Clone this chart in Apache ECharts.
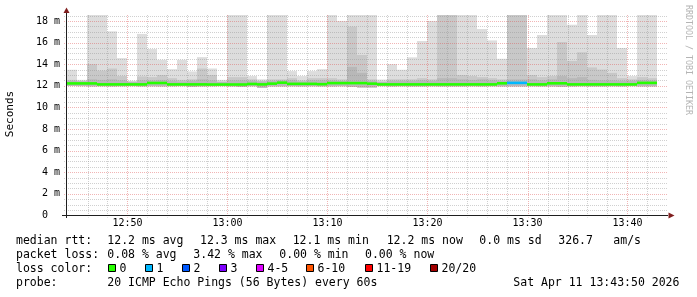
<!DOCTYPE html>
<html><head><meta charset="utf-8">
<script src="https://cdn.jsdelivr.net/npm/echarts@6/dist/echarts.min.js"></script>
<style>html,body{margin:0;padding:0;background:#fff}#c{width:697px;height:297px}</style>
</head><body><div id="c"></div>
<script>
// time in minutes after 12:00
const startMinute = 43.95;
const stepMinutes = 1;
const yMaxValue = 18.55;
const xMajorTicks = [50, 60, 70, 80, 90, 100];
const xTickLabels = ['12:50', '13:00', '13:10', '13:20', '13:30', '13:40'];
const yMajorTicks = [0, 2, 4, 6, 8, 10, 12, 14, 16, 18];
const yTickLabels = ['0  ', '2 m', '4 m', '6 m', '8 m', '10 m', '12 m', '14 m', '16 m', '18 m'];

// smoke (ms) per minute
const smokeMax = [13.48,12.55,19,19,17.04,14.56,12.46,16.8,15.4,14.4,13.54,14.4,13.33,14.65,13.6,12.55,19,19,12.9,12.6,
  19,19,13.36,12.9,13.36,13.54,19,18.0,19,19,19,12.58,14.0,13.48,14.63,16.14,18.0,19,19,19,
  19,17.25,16.2,14.5,19,19,15.5,16.7,19,19,17.65,19,16.7,19,19,15.5,12.9,19,19];
const smokeMid = [12.55,12.45,14.0,13.4,13.6,12.9,12.4,12.87,12.8,13.0,12.7,12.55,12.6,13.6,13.0,12.4,12.8,12.8,12.6,12.45,
  12.6,12.6,12.7,12.5,12.7,12.7,12.7,12.6,17.47,14.85,12.6,12.4,12.6,12.6,12.6,12.7,12.6,19,19,13.0,
  12.9,12.8,12.7,12.6,19,19,13.0,12.8,12.9,16.05,14.3,15.1,13.7,13.5,13.2,12.7,12.6,12.8,12.7];
const smokeInner = [12.45,12.4,12.6,12.55,12.6,12.5,12.35,12.5,12.5,12.55,12.45,12.4,12.45,12.6,12.5,12.35,12.5,12.5,12.45,12.4,
  12.45,12.5,12.5,12.4,12.5,12.5,12.5,12.45,13.75,13.2,12.45,12.35,12.45,12.45,12.45,12.5,12.45,12.7,12.7,12.6,
  12.55,12.6,12.5,12.45,12.6,12.6,12.6,12.5,12.6,12.9,12.7,12.8,12.55,12.5,12.5,12.45,12.45,12.55,12.5];
const smokeMin = [11.98,11.97,11.95,11.96,11.95,11.96,11.97,11.95,11.96,11.95,11.96,11.97,11.92,11.95,11.96,11.97,11.95,11.9,11.96,11.82,
  11.95,11.95,11.96,11.95,11.96,11.95,11.95,11.96,11.9,11.85,11.85,11.97,11.95,11.96,11.95,11.95,11.96,11.95,11.95,11.95,
  11.96,11.95,11.96,11.95,11.95,11.95,11.96,11.95,11.95,11.92,11.95,11.96,11.95,11.95,11.96,11.95,11.97,11.95,11.95];
const medianRtt = [12.22,12.22,12.22,12.13,12.13,12.13,12.13,12.13,12.26,12.26,12.13,12.13,12.13,12.13,12.12,12.12,12.12,12.12,12.17,12.13,
  12.2,12.29,12.18,12.18,12.18,12.15,12.25,12.25,12.25,12.25,12.2,12.13,12.13,12.13,12.13,12.13,12.13,12.13,12.13,12.13,
  12.13,12.13,12.13,12.23,12.27,12.27,12.13,12.13,12.23,12.23,12.13,12.13,12.13,12.13,12.13,12.13,12.13,12.27,12.27];
const lossCount = [0,0,0,0,0,0,0,0,0,0,0,0,0,0,0,0,0,0,0,0,
  0,0,0,0,0,0,0,0,0,0,0,0,0,0,0,0,0,0,0,0,
  0,0,0,0,1,1,0,0,0,0,0,0,0,0,0,0,0,0,0];

const lossLegend = ['0', '1', '2', '3', '4-5', '6-10', '11-19', '20/20'];
const lossLegendColors = ['#26ff00', '#00b8ff', '#0059ff', '#7e00ff', '#dd00ff', '#ff5500', '#ff0000', '#a10000'];
function lossColor(n) {
  if (n <= 0) return lossLegendColors[0];
  if (n === 1) return lossLegendColors[1];
  if (n === 2) return lossLegendColors[2];
  if (n === 3) return lossLegendColors[3];
  if (n <= 5) return lossLegendColors[4];
  if (n <= 10) return lossLegendColors[5];
  if (n <= 19) return lossLegendColors[6];
  return lossLegendColors[7];
}

const times = smokeMax.map((_, i) => startMinute + i * stepMinutes);
const smokeData = times.map((t, i) => [t, smokeMin[i], smokeMax[i], smokeMid[i], smokeInner[i]]);
const medianData = times.map((t, i) => [t, medianRtt[i], lossCount[i]]);

// grid line list: [orientation(0=vertical,1=horizontal), value, major]
const gridData = [];
for (let m = 46; m <= 102; m += 2) gridData.push([0, m, xMajorTicks.includes(m) ? 1 : 0]);
for (let v = 0.5; v <= 18.5; v += 0.5) gridData.push([1, v, yMajorTicks.includes(v) ? 1 : 0]);

const MONO = '"DejaVu Sans Mono", monospace';
const chart = echarts.init(document.getElementById('c'), null, {renderer: 'canvas'});

const legendRows = [
  {y: 241, items: [[16, 'median rtt:'], [107.3, '12.2 ms avg'], [200, '12.3 ms max'], [292.7, '12.1 ms min'], [386.7, '12.2 ms now'], [479.3, '0.0 ms sd'], [558.3, '326.7'], [613.3, 'am/s']]},
  {y: 255, items: [[16, 'packet loss:'], [107.3, '0.08 % avg'], [193.3, '3.42 % max'], [279.3, '0.00 % min'], [365, '0.00 % now']]},
  {y: 269, items: [[16, 'loss color:']]},
  {y: 283, items: [[16, 'probe:'], [107.3, '20 ICMP Echo Pings (56 Bytes) every 60s'], [513.3, 'Sat Apr 11 13:43:50 2026']]}
];
const boxX = [108.5, 145.5, 182.5, 219.5, 256.5, 306.5, 365.5, 430.5];

const graphics = [];
legendRows.forEach(r => r.items.forEach(([x, s]) => graphics.push({
  type: 'text', x: x, y: r.y, z: 50,
  style: {text: s, font: '11.5px ' + MONO, fill: '#000', verticalAlign: 'middle', align: 'left'}
})));
lossLegend.forEach((s, i) => {
  graphics.push({type: 'rect', z: 50, shape: {x: boxX[i], y: 264.5, width: 7, height: 7},
    style: {fill: lossLegendColors[i], stroke: '#000', lineWidth: 1}});
  graphics.push({type: 'text', x: boxX[i] + 11, y: 269, z: 50,
    style: {text: s, font: '11.5px ' + MONO, fill: '#000', verticalAlign: 'middle', align: 'left'}});
});
// axis title
graphics.push({type: 'text', x: 10, y: 114, rotation: Math.PI / 2, z: 50,
  style: {text: 'Seconds', font: '11px ' + MONO, fill: '#000', align: 'center', verticalAlign: 'middle'}});
// watermark
graphics.push({type: 'text', x: 688, y: 60, rotation: -Math.PI / 2, z: 50,
  style: {text: 'RRDTOOL / TOBI OETIKER', font: '8.3px ' + MONO, fill: '#b4b4b4', align: 'center', verticalAlign: 'middle'}});
// axis lines and arrows
graphics.push({type: 'line', z: 60, shape: {x1: 62, y1: 215.5, x2: 668, y2: 215.5}, style: {stroke: '#1f1f1f', lineWidth: 1}});
graphics.push({type: 'line', z: 60, shape: {x1: 66.5, y1: 218, x2: 66.5, y2: 12}, style: {stroke: '#1f1f1f', lineWidth: 1}});
graphics.push({type: 'polygon', z: 61, shape: {points: [[66.5, 7.5], [63.5, 13], [69.5, 13]]}, style: {fill: '#801f1f'}});
graphics.push({type: 'polygon', z: 61, shape: {points: [[674.5, 215.5], [668.5, 212.5], [668.5, 218.5]]}, style: {fill: '#801f1f'}});

chart.setOption({
  animation: false,
  backgroundColor: '#ffffff',
  grid: {left: 67, right: 29, top: 15, bottom: 81.5, containLabel: false},
  xAxis: {
    type: 'value', min: startMinute, max: startMinute + 60.1,
    axisLine: {show: false}, axisTick: {show: false}, splitLine: {show: false},
    axisLabel: {
      customValues: xMajorTicks, margin: 3, color: '#000', fontFamily: MONO, fontSize: 10,
      formatter: v => xTickLabels[xMajorTicks.indexOf(Math.round(v))] || ''
    }
  },
  yAxis: {
    type: 'value', min: 0, max: yMaxValue,
    axisLine: {show: false}, axisTick: {show: false}, splitLine: {show: false},
    axisLabel: {
      customValues: yMajorTicks, margin: 7, color: '#000', fontFamily: MONO, fontSize: 10,
      formatter: v => { const k = yMajorTicks.indexOf(Math.round(v * 100) / 100); return k >= 0 ? yTickLabels[k] : ''; }
    }
  },
  graphic: graphics,
  series: [
    {
      type: 'custom', z: 2, silent: true,
      data: smokeData,
      renderItem(params, api) {
        const cs = params.coordSys;
        const t = api.value(0);
        const x0 = Math.round(api.coord([t, 0])[0]);
        const x1 = Math.round(api.coord([t + stepMinutes, 0])[0]);
        const yLo = api.coord([t, api.value(1)])[1];
        const layers = [[api.value(2), '#dddddd'], [api.value(3), '#c8c8c8'], [api.value(4), '#b8b8b8']];
        return {type: 'group', children: layers.map(([v, c]) => {
          const yTop = Math.max(api.coord([t, v])[1], cs.y);
          return {type: 'rect', shape: {x: x0, y: yTop, width: x1 - x0, height: yLo - yTop}, style: {fill: c}};
        })};
      }
    },
    {
      type: 'custom', z: 3, silent: true,
      data: gridData,
      renderItem(params, api) {
        const cs = params.coordSys;
        const o = api.value(0), v = api.value(1), major = api.value(2);
        const color = major ? 'rgba(222,79,79,0.42)' : 'rgba(143,143,143,0.42)';
        if (o === 0) {
          const x = Math.round(api.coord([v, 0])[0]) + 0.5;
          return {type: 'line', shape: {x1: x, y1: cs.y, x2: x, y2: cs.y + cs.height + 2},
            style: {stroke: color, lineWidth: 1, lineDash: [1, 1]}};
        }
        const y = Math.round(api.coord([startMinute, v])[1]) + 0.5;
        return {type: 'line', shape: {x1: cs.x - 3, y1: y, x2: cs.x + cs.width, y2: y},
          style: {stroke: color, lineWidth: 1, lineDash: [1, 1]}};
      }
    },
    {
      type: 'custom', z: 4, silent: true,
      data: medianData,
      renderItem(params, api) {
        const t = api.value(0);
        const x0 = Math.round(api.coord([t, 0])[0]);
        const x1 = Math.round(api.coord([t + stepMinutes, 0])[0]);
        const yc = api.coord([t, api.value(1)])[1];
        return {type: 'rect', shape: {x: x0, y: yc - 1.3, width: x1 - x0, height: 2.6},
          style: {fill: lossColor(api.value(2))}};
      }
    }
  ]
});
</script></body></html>
